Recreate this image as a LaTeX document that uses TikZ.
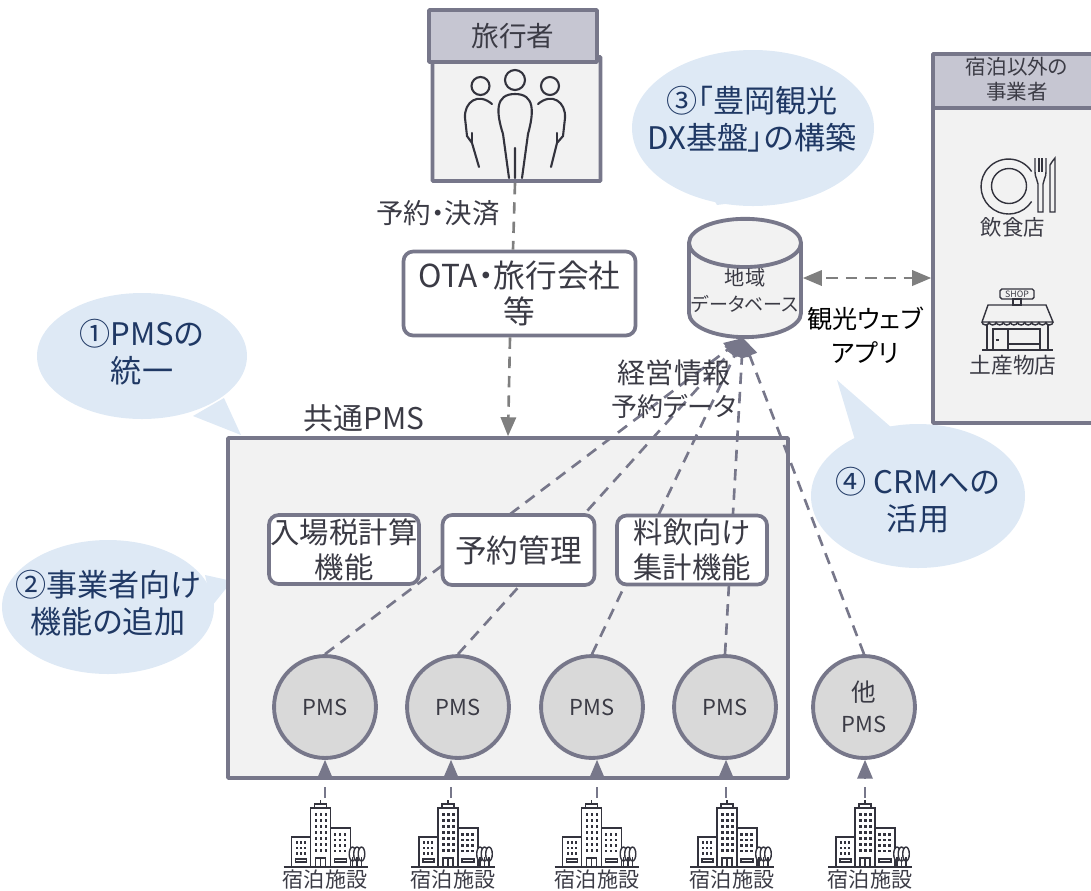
\documentclass[tikz,border=0pt]{standalone}
\usepackage{fontspec}
\setmainfont{Noto Sans CJK JP}[RawFeature=+palt]
\usetikzlibrary{arrows,shapes.geometric}

\definecolor{boxline}{HTML}{77778A}
\definecolor{boxfill}{HTML}{F2F2F2}
\definecolor{titlefill}{HTML}{C6C6D2}
\definecolor{pmsfill}{HTML}{D9D9D9}
\definecolor{bubblefill}{HTML}{DEE9F5}
\definecolor{bubbletext}{HTML}{1F3864}
\definecolor{labeltext}{HTML}{3B3B45}
\definecolor{linkline}{HTML}{7F7F7F}
\definecolor{iconline}{HTML}{33333D}

\tikzset{
	panel/.style={draw=boxline,fill=boxfill,line width=2.2pt,rounded corners=0.5pt},
	panelhead/.style={panel,fill=titlefill,text=labeltext},
	funcbox/.style={draw=boxline,fill=white,line width=2.1pt,rounded corners=5.5pt,text=labeltext,
		align=center,inner sep=0pt},
	pmsnode/.style={circle,draw=boxline,fill=pmsfill,line width=2.2pt,minimum size=58pt,inner sep=0pt,
		text=labeltext,align=center,font=\fontsize{12.5pt}{18pt}\selectfont},
	bubble/.style={text=bubbletext,align=center,inner sep=0pt,
		font=\fontsize{17.7pt}{21pt}\selectfont},
	lbl/.style={text=labeltext,align=center,inner sep=0pt},
	link/.style={draw=linkline,line width=1.5pt,dash pattern=on 6.5pt off 4.5pt},
	pmslink/.style={link,draw=boxline},
	icon/.style={draw=iconline,line width=0.8pt,fill=none},
	pics/hotel/.style={code={
		\draw[icon] (-30,0) rectangle (-11,-30);
		\draw[icon] (-11,0) rectangle (9,-59);
		\draw[icon] (9,0) rectangle (29,-39);
		\draw[icon] (-7,-59) -- (-7,-63) -- (5,-63) -- (5,-59) (-1,-63) -- (-1,-67);
		\draw[icon,line width=1.1pt] (-38,0) -- (46,0);
		\draw[icon] (-6,0) -- (-6,-9) -- (4,-9) -- (4,0) (-1,-9) -- (-1,0);
		\draw[icon] (-26,-5) rectangle (-15,-8) (13,-5) rectangle (25,-8);
		\foreach \r in {0,...,6} \foreach \c in {0,1,2}
			\fill[iconline] (-7+\c*5,-54+\r*6) rectangle +(2.6,2.8);
		\foreach \r in {0,...,3} \foreach \c in {0,1,2}
			\fill[iconline] (12+\c*5,-34+\r*5.5) rectangle +(2.6,2.8);
		\foreach \r in {0,1,2} \foreach \c in {0,1,2}
			\fill[iconline] (-26+\c*4,-26+\r*5.5) rectangle +(2.4,2.8);
		\foreach \t in {31,35.5,40} {
			\draw[icon,fill=white] (\t,-13) ellipse (3.3 and 7);
			\draw[icon] (\t,-10) -- (\t,0);
		}
	}},
}

\begin{document}
\begin{tikzpicture}[x=0.02cm,y=-0.02cm,>=triangle 45]

	\clip (0,0) rectangle (1091,890);
	\useasboundingbox (0,0) rectangle (1091,890);

	% callouts
	\fill[bubblefill] (142,356) ellipse (105 and 63);
	\fill[bubblefill] (193,416) -- (241,435) -- (224,398) -- cycle;
	\node[bubble] (b1) at (142,352) {①PMSの\\統一};
	\fill[bubblefill] (108,607) ellipse (106 and 67);
	\fill[bubblefill] (205,575) -- (232,581) -- (212,606) -- cycle;
	\node[bubble] (b2) at (108,603) {②事業者向け\\機能の追加};
	\fill[bubblefill] (753,128) ellipse (121 and 78);
	\fill[bubblefill] (702,180) -- (717,205) -- (755,200) -- cycle;
	\node[bubble] (b3) at (752,119) {③「豊岡観光\\DX基盤」の構築};
	\fill[bubblefill] (918,496) ellipse (107 and 72);
	\fill[bubblefill] (855,440) -- (837,380) -- (892,428) -- cycle;
	\node[bubble] (b4) at (918,500) {④ CRMへの\\活用};

	% common PMS
	\node[panel,minimum width=560*0.02cm,minimum height=340*0.02cm] (common) at (508,608) {};
	\node[lbl,font=\fontsize{17pt}{18pt}\selectfont] (commontitle) at (364,418) {共通PMS};

	% traveller
	\node[panel,minimum width=168*0.02cm,minimum height=124*0.02cm] (trav) at (516.5,119) {};
	\node[panelhead,minimum width=168*0.02cm,minimum height=52*0.02cm,font=\fontsize{15.7pt}{18pt}\selectfont] (travtitle) at (513,36) {旅行者};
	\begin{scope}[icon,line width=1.2pt,line cap=round]
		\draw (515,80) circle (10);
		\draw (480.5,86) circle (9);
		\draw (550,86) circle (9);
		\draw (503,134) .. controls (496,112) and (495,94) .. (515,94) .. controls (535,94) and (534,112) .. (528,134);
		\draw (503,134) -- (509,178) (528,134) -- (522,178) (515,148) -- (515,178);
		\draw (492,104) .. controls (478,92) and (464,102) .. (465,118) -- (467,136) -- (472,143) -- (479,167);
		\draw (472,143) -- (472,133);
		\draw (538,104) .. controls (552,92) and (566,102) .. (565,118) -- (563,136) -- (557,143) -- (551,167);
		\draw (557,143) -- (557,133);
	\end{scope}

	% other businesses
	\node[panel,minimum width=200*0.02cm,minimum height=369*0.02cm] (shops) at (1033,238.5) {};
	\node[panelhead,minimum width=200*0.02cm,minimum height=54*0.02cm] (shopstitle) at (1033,81) {};
	\node[lbl,font=\fontsize{11.7pt}{14pt}\selectfont] (shopstext) at (1017,79) {宿泊以外の\\事業者};
	\begin{scope}[icon]
		\draw (1031.6,201.5) arc (33:327:27.5);
		\draw (1009,186) circle (17.5);
		\draw (1035,158) -- (1035,172) .. controls (1035,178) and (1038,180) .. (1038,184) -- (1038,212) -- (1043,212) -- (1043,184) .. controls (1043,180) and (1046,178) .. (1046,172) -- (1046,158);
		\draw (1039,158) -- (1039,172) (1042,158) -- (1042,172);
		\draw (1050,212) -- (1050,165) .. controls (1051,162) and (1054,160) .. (1055,158) -- (1055,212) -- cycle;
		\draw[rounded corners=1pt] (1000,289) rectangle (1034,299);
		\draw (1013,299) rectangle (1021,305);
		\draw (988,305) -- (1046,305) -- (1053,322) -- (982,322) -- cycle;
		\foreach \k in {0,...,9}
			\draw (982+\k*7.1,322) arc (180:0:3.55 and 3);
		\draw (987,325) -- (987,350) (1048,325) -- (1048,350);
		\draw[line width=1.1pt] (982,350) -- (1053,350);
		\draw (993,350) -- (993,329) -- (1040,329) -- (1040,350);
		\draw[line width=1.1pt] (1008,329) -- (1008,350);
		\draw (1008,344) -- (1040,344);
		\fill[iconline] (996,339) rectangle (999,341);
	\end{scope}
	\node[lbl,font=\fontsize{5pt}{6pt}\selectfont] (shopsign) at (1017,294) {SHOP};
	\node[lbl,font=\fontsize{12.2pt}{14pt}\selectfont] (diner) at (1013,227) {飲食店};
	\node[lbl,font=\fontsize{12.4pt}{14pt}\selectfont] (souvenir) at (1013,365) {土産物店};

	% pms circles
	\node[pmsnode] (pms1) at (325,707) {PMS};
	\node[pmsnode] (pms2) at (458,707) {PMS};
	\node[pmsnode] (pms3) at (592,707) {PMS};
	\node[pmsnode] (pms4) at (725,707) {PMS};
	\node[pmsnode] (pms5) at (864,707) {{\fontsize{14pt}{18pt}\selectfont 他}\\PMS};

	% database
	\node[cylinder,shape border rotate=90,aspect=0.45,draw=boxline,fill=boxfill,line width=2.2pt,
		minimum width=112*0.02cm,minimum height=110*0.02cm,inner sep=0pt,text=labeltext,align=center,
		font=\fontsize{11.5pt}{14.8pt}\selectfont] (db) at (745,291) {地域\\{\fontsize{10.8pt}{14.8pt}\selectfont データベース}};
	\coordinate (dbin) at (743,338);

	\node[funcbox,minimum width=232*0.02cm,minimum height=84*0.02cm,font=\fontsize{18pt}{20.5pt}\selectfont] (ota) at (519.5,293.5) {OTA・旅行会社\\等};

	% links
	\draw[link] ([xshift=-0.03cm]trav.south) -- ([xshift=-0.13cm]ota.north);
	\draw[link,->] ([xshift=-0.19cm]ota.south) -- (common.north);
	\foreach \n in {1,...,5}
		\draw[pmslink,->] (pms\n.north) -- (dbin);
	\draw[link,<->] (db.east |- 0,278) -- (shops.west |- 0,278);

	\node[funcbox,minimum width=150*0.02cm,minimum height=69*0.02cm,font=\fontsize{16.7pt}{20pt}\selectfont] (tax) at (344,549.5) {入場税計算\\機能};
	\node[funcbox,minimum width=152*0.02cm,minimum height=70*0.02cm,font=\fontsize{18pt}{22pt}\selectfont] (resv) at (518.5,550) {予約管理};
	\node[funcbox,minimum width=150*0.02cm,minimum height=69*0.02cm,font=\fontsize{16.7pt}{20pt}\selectfont] (food) at (692,550) {料飲向け\\集計機能};

	% labels
	\node[lbl,font=\fontsize{15.6pt}{18pt}\selectfont] (book) at (438,213) {予約・決済};
	\node[lbl,font=\fontsize{16pt}{18.8pt}\selectfont] (mgmt) at (674,389) {経営情報\\{\fontsize{14.8pt}{18.8pt}\selectfont 予約データ}};
	\node[lbl,text=black,font=\fontsize{14.3pt}{19.3pt}\selectfont] (webapp) at (865,335) {観光ウェブ\\アプリ};

	% lodging
	\foreach \n/\x/\ix/\lx in {1/325/321.5/325,2/453/449/451,3/597/592.5/597,4/732/728/726,5/870/866/865} {
		\pic (h\n) at (\ix,867) {hotel};
		\node[lbl,font=\fontsize{12pt}{14pt}\selectfont] (hlabel\n) at (\x,879) {宿泊施設};
		\coordinate (hfoot\n) at (\lx,798);
		\draw[pmslink,->] (hfoot\n) -- (hfoot\n |- pms\n.south);
	}

\end{tikzpicture}
\end{document}
